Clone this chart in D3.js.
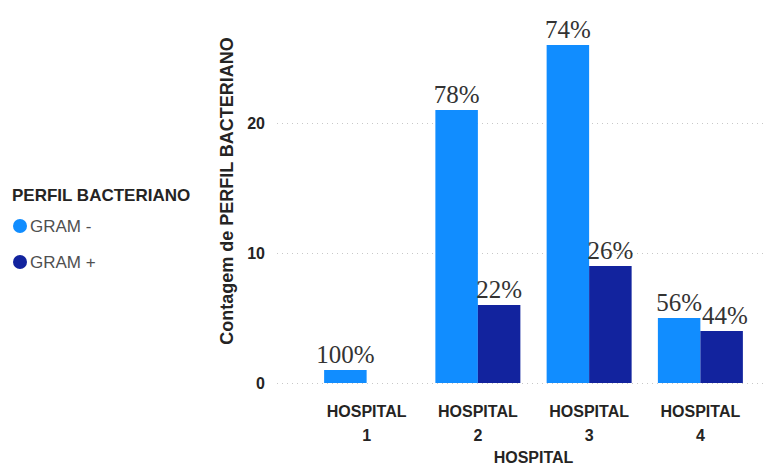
<!DOCTYPE html>
<html>
<head>
<meta charset="utf-8">
<script src="https://cdn.jsdelivr.net/npm/d3@7"></script>
<style>
  body { margin: 0; background: #fff; }
  svg { display: block; }
</style>
</head>
<body>
<div id="chart"></div>
<script>
const hospitals = ["HOSPITAL 1", "HOSPITAL 2", "HOSPITAL 3", "HOSPITAL 4"];
const series = ["GRAM -", "GRAM +"];
const gramNeg = [1, 21, 26, 5];
const gramPos = [0, 6, 9, 4];
const pctNeg = ["100%", "78%", "74%", "56%"];
const pctPos = ["", "22%", "26%", "44%"];
const yTicks = [0, 10, 20];
const colors = ["#118DFF", "#12239E"];

const width = 763, height = 471;

const svg = d3.select("#chart").append("svg")
  .attr("width", width)
  .attr("height", height);

const x = d3.scaleBand()
  .domain(hospitals)
  .range([313, 754])
  .paddingInner(0.236)
  .paddingOuter(0.1);

const xs = d3.scaleBand()
  .domain(series)
  .range([0, x.bandwidth()]);

const y = d3.scaleLinear()
  .domain([0, 26])
  .range([383, 45]);

// gridlines
svg.append("g")
  .selectAll("line")
  .data(yTicks)
  .enter().append("line")
  .attr("x1", 277)
  .attr("x2", 763)
  .attr("y1", d => y(d) + 0.5)
  .attr("y2", d => y(d) + 0.5)
  .style("stroke", "#c8c8c8")
  .style("stroke-width", 1)
  .style("stroke-dasharray", "1,4");

// y tick labels
svg.append("g")
  .selectAll("text")
  .data(yTicks)
  .enter().append("text")
  .attr("x", 265)
  .attr("y", d => y(d))
  .attr("dy", "0.36em")
  .attr("text-anchor", "end")
  .style("font-family", "Liberation Sans, Arial, sans-serif")
  .style("font-size", "16px")
  .style("font-weight", "bold")
  .style("fill", "#252423")
  .text(d => d);

// y axis title
svg.append("text")
  .attr("transform", "translate(233, 191) rotate(-90)")
  .attr("text-anchor", "middle")
  .style("font-family", "Liberation Sans, Arial, sans-serif")
  .style("font-size", "18px")
  .style("font-weight", "bold")
  .style("fill", "#252423")
  .text("Contagem de PERFIL BACTERIANO");

// bars
const rows = hospitals.map((h, i) => ({
  hospital: h,
  values: [
    { key: series[0], value: gramNeg[i], label: pctNeg[i] },
    { key: series[1], value: gramPos[i], label: pctPos[i] }
  ]
}));

const groups = svg.append("g")
  .selectAll("g")
  .data(rows)
  .enter().append("g")
  .attr("transform", d => `translate(${x(d.hospital)},0)`);

groups.selectAll("rect")
  .data(d => d.values)
  .enter().append("rect")
  .attr("x", d => xs(d.key))
  .attr("width", xs.bandwidth())
  .attr("y", d => y(d.value))
  .attr("height", d => y(0) - y(d.value))
  .style("fill", (d, i) => colors[i]);

// data labels (percent of hospital), nudged right if they collide
const labelG = svg.append("g");
rows.forEach(r => {
  let prev = null;
  r.values.forEach(v => {
    if (!v.label) return;
    const t = labelG.append("text")
      .attr("x", x(r.hospital) + xs(v.key) + xs.bandwidth() / 2)
      .attr("y", y(v.value) - 7)
      .attr("text-anchor", "middle")
      .style("font-family", "Liberation Serif, Times New Roman, serif")
      .style("font-size", "25px")
      .style("fill", "#333")
      .text(v.label);
    const b = t.node().getBBox();
    if (prev && b.x < prev.x + prev.width && b.y < prev.y + prev.height && b.y + b.height > prev.y) {
      const shift = prev.x + prev.width - b.x;
      t.attr("x", +t.attr("x") + shift);
    }
    prev = t.node().getBBox();
  });
});

// x tick labels
const xl = svg.append("g")
  .selectAll("text")
  .data(hospitals)
  .enter().append("text")
  .attr("text-anchor", "middle")
  .style("font-family", "Liberation Sans, Arial, sans-serif")
  .style("font-size", "16px")
  .style("font-weight", "bold")
  .style("fill", "#252423");

xl.append("tspan")
  .attr("x", d => x(d) + x.bandwidth() / 2)
  .attr("y", 417)
  .text(d => d.split(" ")[0]);

xl.append("tspan")
  .attr("x", d => x(d) + x.bandwidth() / 2)
  .attr("y", 441)
  .text(d => d.split(" ")[1]);

// x axis title
svg.append("text")
  .attr("x", (x.range()[0] + x.range()[1]) / 2)
  .attr("y", 463)
  .attr("text-anchor", "middle")
  .style("font-family", "Liberation Sans, Arial, sans-serif")
  .style("font-size", "16px")
  .style("font-weight", "bold")
  .style("fill", "#252423")
  .text("HOSPITAL");

// legend
const legend = svg.append("g");
legend.append("text")
  .attr("x", 12)
  .attr("y", 201)
  .style("font-family", "Liberation Sans, Arial, sans-serif")
  .style("font-size", "17px")
  .style("font-weight", "bold")
  .style("fill", "#252423")
  .text("PERFIL BACTERIANO");

series.forEach((s, i) => {
  const row = legend.append("g")
    .attr("transform", `translate(0, ${226 + i * 36})`);
  row.append("circle")
    .attr("cx", 20)
    .attr("cy", 0)
    .attr("r", 7)
    .style("fill", colors[i]);
  row.append("text")
    .attr("x", 30)
    .attr("y", 0)
    .attr("dy", "0.36em")
    .style("font-family", "Liberation Sans, Arial, sans-serif")
    .style("font-size", "17px")
    .style("fill", "#505050")
    .text(s);
});
</script>
</body>
</html>
